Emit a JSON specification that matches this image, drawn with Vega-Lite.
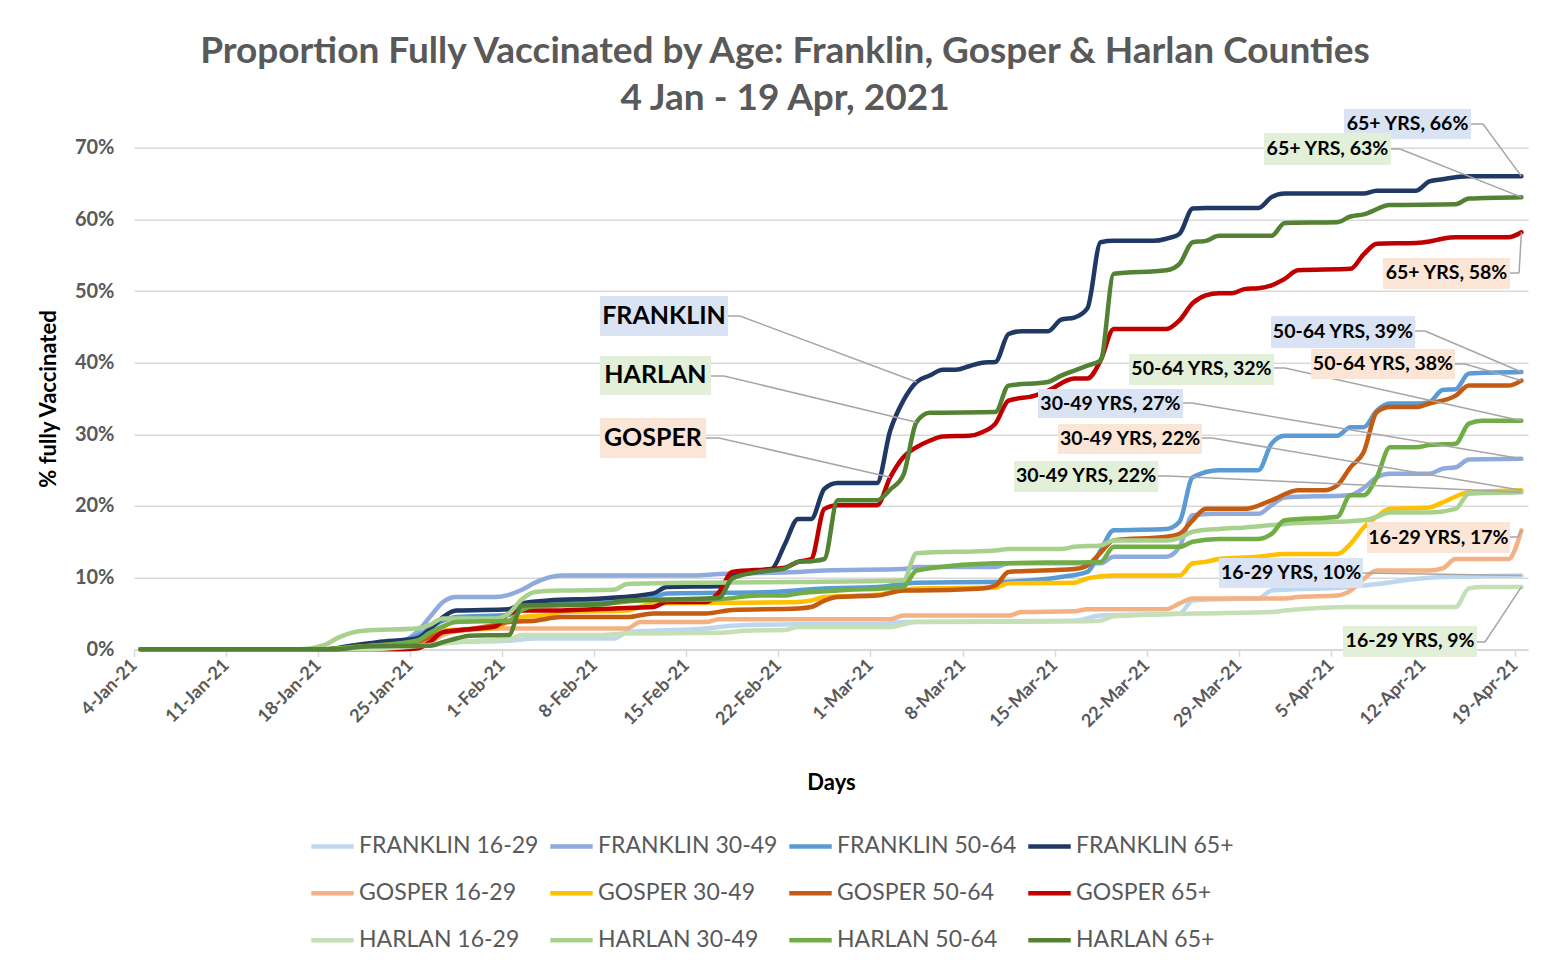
{
  "$schema": "https://vega.github.io/schema/vega-lite/v6.json",
  "width": 1394,
  "height": 501.6,
  "autosize": {"type": "none"},
  "padding": {"left": 134, "top": 147.7, "right": 32, "bottom": 314.7},
  "background": "white",
  "title": {
    "text": ["Proportion Fully Vaccinated by Age: Franklin, Gosper & Harlan Counties", "4 Jan - 19 Apr, 2021"],
    "font": "Lato", "fontSize": 37, "fontWeight": "bold", "color": "#595959",
    "lineHeight": 47, "offset": -9, "dx": -46, "anchor": "middle"
  },
  "config": {"view": {"stroke": null}, "font": "Lato"},
  "datasets": {
    "series": [
      {"series":"FRANKLIN 16-29","day":0,"pct":0},{"series":"FRANKLIN 16-29","day":14,"pct":0},{"series":"FRANKLIN 16-29","day":18,"pct":0.002},{"series":"FRANKLIN 16-29","day":21,"pct":0.004},{"series":"FRANKLIN 16-29","day":22,"pct":0.006},{"series":"FRANKLIN 16-29","day":24,"pct":0.010},{"series":"FRANKLIN 16-29","day":28,"pct":0.012},{"series":"FRANKLIN 16-29","day":30,"pct":0.015},{"series":"FRANKLIN 16-29","day":36,"pct":0.015},{"series":"FRANKLIN 16-29","day":37,"pct":0.024},{"series":"FRANKLIN 16-29","day":39,"pct":0.026},{"series":"FRANKLIN 16-29","day":43,"pct":0.029},{"series":"FRANKLIN 16-29","day":45,"pct":0.033},{"series":"FRANKLIN 16-29","day":50,"pct":0.035},{"series":"FRANKLIN 16-29","day":56,"pct":0.035},{"series":"FRANKLIN 16-29","day":58,"pct":0.038},{"series":"FRANKLIN 16-29","day":71,"pct":0.040},{"series":"FRANKLIN 16-29","day":73,"pct":0.047},{"series":"FRANKLIN 16-29","day":79,"pct":0.050},{"series":"FRANKLIN 16-29","day":80,"pct":0.068},{"series":"FRANKLIN 16-29","day":82,"pct":0.070},{"series":"FRANKLIN 16-29","day":85,"pct":0.071},{"series":"FRANKLIN 16-29","day":86,"pct":0.082},{"series":"FRANKLIN 16-29","day":92,"pct":0.087},{"series":"FRANKLIN 16-29","day":94,"pct":0.091},{"series":"FRANKLIN 16-29","day":98,"pct":0.100},{"series":"FRANKLIN 16-29","day":105,"pct":0.103},

      {"series":"FRANKLIN 30-49","day":0,"pct":0},{"series":"FRANKLIN 30-49","day":14,"pct":0},{"series":"FRANKLIN 30-49","day":17,"pct":0.005},{"series":"FRANKLIN 30-49","day":20,"pct":0.012},{"series":"FRANKLIN 30-49","day":21,"pct":0.024},{"series":"FRANKLIN 30-49","day":22,"pct":0.045},{"series":"FRANKLIN 30-49","day":23,"pct":0.066},{"series":"FRANKLIN 30-49","day":24,"pct":0.073},{"series":"FRANKLIN 30-49","day":27,"pct":0.073},{"series":"FRANKLIN 30-49","day":28,"pct":0.076},{"series":"FRANKLIN 30-49","day":29,"pct":0.083},{"series":"FRANKLIN 30-49","day":30,"pct":0.093},{"series":"FRANKLIN 30-49","day":31,"pct":0.100},{"series":"FRANKLIN 30-49","day":32,"pct":0.103},{"series":"FRANKLIN 30-49","day":42,"pct":0.103},{"series":"FRANKLIN 30-49","day":44,"pct":0.105},{"series":"FRANKLIN 30-49","day":50,"pct":0.108},{"series":"FRANKLIN 30-49","day":52,"pct":0.110},{"series":"FRANKLIN 30-49","day":58,"pct":0.112},{"series":"FRANKLIN 30-49","day":59,"pct":0.115},{"series":"FRANKLIN 30-49","day":65,"pct":0.115},{"series":"FRANKLIN 30-49","day":66,"pct":0.120},{"series":"FRANKLIN 30-49","day":73,"pct":0.120},{"series":"FRANKLIN 30-49","day":74,"pct":0.129},{"series":"FRANKLIN 30-49","day":78,"pct":0.129},{"series":"FRANKLIN 30-49","day":79,"pct":0.143},{"series":"FRANKLIN 30-49","day":80,"pct":0.187},{"series":"FRANKLIN 30-49","day":82,"pct":0.189},{"series":"FRANKLIN 30-49","day":85,"pct":0.189},{"series":"FRANKLIN 30-49","day":86,"pct":0.201},{"series":"FRANKLIN 30-49","day":87,"pct":0.212},{"series":"FRANKLIN 30-49","day":92,"pct":0.215},{"series":"FRANKLIN 30-49","day":93,"pct":0.225},{"series":"FRANKLIN 30-49","day":94,"pct":0.240},{"series":"FRANKLIN 30-49","day":95,"pct":0.245},{"series":"FRANKLIN 30-49","day":98,"pct":0.245},{"series":"FRANKLIN 30-49","day":99,"pct":0.252},{"series":"FRANKLIN 30-49","day":100,"pct":0.254},{"series":"FRANKLIN 30-49","day":101,"pct":0.265},{"series":"FRANKLIN 30-49","day":105,"pct":0.266},

      {"series":"FRANKLIN 50-64","day":0,"pct":0},{"series":"FRANKLIN 50-64","day":14,"pct":0},{"series":"FRANKLIN 50-64","day":17,"pct":0.005},{"series":"FRANKLIN 50-64","day":21,"pct":0.018},{"series":"FRANKLIN 50-64","day":22,"pct":0.030},{"series":"FRANKLIN 50-64","day":23,"pct":0.040},{"series":"FRANKLIN 50-64","day":24,"pct":0.045},{"series":"FRANKLIN 50-64","day":28,"pct":0.048},{"series":"FRANKLIN 50-64","day":29,"pct":0.058},{"series":"FRANKLIN 50-64","day":31,"pct":0.063},{"series":"FRANKLIN 50-64","day":35,"pct":0.068},{"series":"FRANKLIN 50-64","day":39,"pct":0.073},{"series":"FRANKLIN 50-64","day":40,"pct":0.078},{"series":"FRANKLIN 50-64","day":48,"pct":0.080},{"series":"FRANKLIN 50-64","day":52,"pct":0.085},{"series":"FRANKLIN 50-64","day":56,"pct":0.087},{"series":"FRANKLIN 50-64","day":59,"pct":0.093},{"series":"FRANKLIN 50-64","day":65,"pct":0.094},{"series":"FRANKLIN 50-64","day":70,"pct":0.101},{"series":"FRANKLIN 50-64","day":72,"pct":0.108},{"series":"FRANKLIN 50-64","day":73,"pct":0.138},{"series":"FRANKLIN 50-64","day":74,"pct":0.166},{"series":"FRANKLIN 50-64","day":78,"pct":0.168},{"series":"FRANKLIN 50-64","day":79,"pct":0.178},{"series":"FRANKLIN 50-64","day":80,"pct":0.240},{"series":"FRANKLIN 50-64","day":82,"pct":0.250},{"series":"FRANKLIN 50-64","day":85,"pct":0.250},{"series":"FRANKLIN 50-64","day":86,"pct":0.287},{"series":"FRANKLIN 50-64","day":87,"pct":0.298},{"series":"FRANKLIN 50-64","day":91,"pct":0.298},{"series":"FRANKLIN 50-64","day":92,"pct":0.310},{"series":"FRANKLIN 50-64","day":93,"pct":0.310},{"series":"FRANKLIN 50-64","day":94,"pct":0.333},{"series":"FRANKLIN 50-64","day":95,"pct":0.343},{"series":"FRANKLIN 50-64","day":97,"pct":0.343},{"series":"FRANKLIN 50-64","day":98,"pct":0.345},{"series":"FRANKLIN 50-64","day":99,"pct":0.362},{"series":"FRANKLIN 50-64","day":100,"pct":0.363},{"series":"FRANKLIN 50-64","day":101,"pct":0.385},{"series":"FRANKLIN 50-64","day":105,"pct":0.387},

      {"series":"FRANKLIN 65+","day":0,"pct":0},{"series":"FRANKLIN 65+","day":14,"pct":0},{"series":"FRANKLIN 65+","day":16,"pct":0.005},{"series":"FRANKLIN 65+","day":18,"pct":0.010},{"series":"FRANKLIN 65+","day":21,"pct":0.015},{"series":"FRANKLIN 65+","day":22,"pct":0.028},{"series":"FRANKLIN 65+","day":23,"pct":0.045},{"series":"FRANKLIN 65+","day":24,"pct":0.054},{"series":"FRANKLIN 65+","day":28,"pct":0.056},{"series":"FRANKLIN 65+","day":29,"pct":0.064},{"series":"FRANKLIN 65+","day":31,"pct":0.068},{"series":"FRANKLIN 65+","day":35,"pct":0.071},{"series":"FRANKLIN 65+","day":39,"pct":0.078},{"series":"FRANKLIN 65+","day":40,"pct":0.087},{"series":"FRANKLIN 65+","day":44,"pct":0.088},{"series":"FRANKLIN 65+","day":45,"pct":0.103},{"series":"FRANKLIN 65+","day":47,"pct":0.108},{"series":"FRANKLIN 65+","day":48,"pct":0.112},{"series":"FRANKLIN 65+","day":49,"pct":0.147},{"series":"FRANKLIN 65+","day":50,"pct":0.182},{"series":"FRANKLIN 65+","day":51,"pct":0.182},{"series":"FRANKLIN 65+","day":52,"pct":0.224},{"series":"FRANKLIN 65+","day":53,"pct":0.232},{"series":"FRANKLIN 65+","day":56,"pct":0.232},{"series":"FRANKLIN 65+","day":57,"pct":0.305},{"series":"FRANKLIN 65+","day":58,"pct":0.347},{"series":"FRANKLIN 65+","day":59,"pct":0.373},{"series":"FRANKLIN 65+","day":60,"pct":0.382},{"series":"FRANKLIN 65+","day":61,"pct":0.390},{"series":"FRANKLIN 65+","day":62,"pct":0.390},{"series":"FRANKLIN 65+","day":63,"pct":0.395},{"series":"FRANKLIN 65+","day":64,"pct":0.400},{"series":"FRANKLIN 65+","day":65,"pct":0.401},{"series":"FRANKLIN 65+","day":66,"pct":0.440},{"series":"FRANKLIN 65+","day":67,"pct":0.444},{"series":"FRANKLIN 65+","day":69,"pct":0.444},{"series":"FRANKLIN 65+","day":70,"pct":0.460},{"series":"FRANKLIN 65+","day":71,"pct":0.463},{"series":"FRANKLIN 65+","day":72,"pct":0.476},{"series":"FRANKLIN 65+","day":73,"pct":0.568},{"series":"FRANKLIN 65+","day":74,"pct":0.570},{"series":"FRANKLIN 65+","day":77,"pct":0.570},{"series":"FRANKLIN 65+","day":78,"pct":0.573},{"series":"FRANKLIN 65+","day":79,"pct":0.580},{"series":"FRANKLIN 65+","day":80,"pct":0.615},{"series":"FRANKLIN 65+","day":81,"pct":0.616},{"series":"FRANKLIN 65+","day":85,"pct":0.616},{"series":"FRANKLIN 65+","day":86,"pct":0.631},{"series":"FRANKLIN 65+","day":87,"pct":0.636},{"series":"FRANKLIN 65+","day":93,"pct":0.636},{"series":"FRANKLIN 65+","day":94,"pct":0.640},{"series":"FRANKLIN 65+","day":97,"pct":0.640},{"series":"FRANKLIN 65+","day":98,"pct":0.653},{"series":"FRANKLIN 65+","day":99,"pct":0.656},{"series":"FRANKLIN 65+","day":101,"pct":0.660},{"series":"FRANKLIN 65+","day":105,"pct":0.660},

      {"series":"GOSPER 16-29","day":0,"pct":0},{"series":"GOSPER 16-29","day":17,"pct":0},{"series":"GOSPER 16-29","day":20,"pct":0.003},{"series":"GOSPER 16-29","day":22,"pct":0.010},{"series":"GOSPER 16-29","day":23,"pct":0.020},{"series":"GOSPER 16-29","day":24,"pct":0.025},{"series":"GOSPER 16-29","day":27,"pct":0.029},{"series":"GOSPER 16-29","day":37,"pct":0.029},{"series":"GOSPER 16-29","day":38,"pct":0.038},{"series":"GOSPER 16-29","day":43,"pct":0.038},{"series":"GOSPER 16-29","day":44,"pct":0.042},{"series":"GOSPER 16-29","day":57,"pct":0.042},{"series":"GOSPER 16-29","day":58,"pct":0.047},{"series":"GOSPER 16-29","day":66,"pct":0.047},{"series":"GOSPER 16-29","day":67,"pct":0.052},{"series":"GOSPER 16-29","day":71,"pct":0.053},{"series":"GOSPER 16-29","day":72,"pct":0.056},{"series":"GOSPER 16-29","day":78,"pct":0.056},{"series":"GOSPER 16-29","day":79,"pct":0.064},{"series":"GOSPER 16-29","day":80,"pct":0.071},{"series":"GOSPER 16-29","day":87,"pct":0.071},{"series":"GOSPER 16-29","day":88,"pct":0.073},{"series":"GOSPER 16-29","day":91,"pct":0.075},{"series":"GOSPER 16-29","day":92,"pct":0.082},{"series":"GOSPER 16-29","day":93,"pct":0.098},{"series":"GOSPER 16-29","day":94,"pct":0.110},{"series":"GOSPER 16-29","day":98,"pct":0.110},{"series":"GOSPER 16-29","day":99,"pct":0.113},{"series":"GOSPER 16-29","day":100,"pct":0.126},{"series":"GOSPER 16-29","day":104,"pct":0.126},{"series":"GOSPER 16-29","day":105,"pct":0.166},

      {"series":"GOSPER 30-49","day":0,"pct":0},{"series":"GOSPER 30-49","day":14,"pct":0},{"series":"GOSPER 30-49","day":17,"pct":0.004},{"series":"GOSPER 30-49","day":21,"pct":0.010},{"series":"GOSPER 30-49","day":22,"pct":0.018},{"series":"GOSPER 30-49","day":23,"pct":0.026},{"series":"GOSPER 30-49","day":27,"pct":0.030},{"series":"GOSPER 30-49","day":28,"pct":0.040},{"series":"GOSPER 30-49","day":29,"pct":0.045},{"series":"GOSPER 30-49","day":31,"pct":0.048},{"series":"GOSPER 30-49","day":32,"pct":0.052},{"series":"GOSPER 30-49","day":37,"pct":0.054},{"series":"GOSPER 30-49","day":39,"pct":0.064},{"series":"GOSPER 30-49","day":50,"pct":0.066},{"series":"GOSPER 30-49","day":51,"pct":0.068},{"series":"GOSPER 30-49","day":52,"pct":0.073},{"series":"GOSPER 30-49","day":56,"pct":0.076},{"series":"GOSPER 30-49","day":59,"pct":0.085},{"series":"GOSPER 30-49","day":65,"pct":0.086},{"series":"GOSPER 30-49","day":66,"pct":0.092},{"series":"GOSPER 30-49","day":71,"pct":0.093},{"series":"GOSPER 30-49","day":72,"pct":0.099},{"series":"GOSPER 30-49","day":74,"pct":0.103},{"series":"GOSPER 30-49","day":79,"pct":0.103},{"series":"GOSPER 30-49","day":80,"pct":0.120},{"series":"GOSPER 30-49","day":81,"pct":0.122},{"series":"GOSPER 30-49","day":82,"pct":0.126},{"series":"GOSPER 30-49","day":85,"pct":0.129},{"series":"GOSPER 30-49","day":87,"pct":0.133},{"series":"GOSPER 30-49","day":91,"pct":0.133},{"series":"GOSPER 30-49","day":92,"pct":0.147},{"series":"GOSPER 30-49","day":93,"pct":0.170},{"series":"GOSPER 30-49","day":94,"pct":0.185},{"series":"GOSPER 30-49","day":95,"pct":0.196},{"series":"GOSPER 30-49","day":98,"pct":0.198},{"series":"GOSPER 30-49","day":99,"pct":0.205},{"series":"GOSPER 30-49","day":101,"pct":0.219},{"series":"GOSPER 30-49","day":105,"pct":0.222},

      {"series":"GOSPER 50-64","day":0,"pct":0},{"series":"GOSPER 50-64","day":14,"pct":0},{"series":"GOSPER 50-64","day":17,"pct":0.004},{"series":"GOSPER 50-64","day":21,"pct":0.010},{"series":"GOSPER 50-64","day":22,"pct":0.017},{"series":"GOSPER 50-64","day":23,"pct":0.024},{"series":"GOSPER 50-64","day":24,"pct":0.026},{"series":"GOSPER 50-64","day":27,"pct":0.034},{"series":"GOSPER 50-64","day":28,"pct":0.038},{"series":"GOSPER 50-64","day":30,"pct":0.040},{"series":"GOSPER 50-64","day":32,"pct":0.045},{"series":"GOSPER 50-64","day":37,"pct":0.045},{"series":"GOSPER 50-64","day":39,"pct":0.050},{"series":"GOSPER 50-64","day":43,"pct":0.050},{"series":"GOSPER 50-64","day":45,"pct":0.055},{"series":"GOSPER 50-64","day":50,"pct":0.057},{"series":"GOSPER 50-64","day":51,"pct":0.059},{"series":"GOSPER 50-64","day":52,"pct":0.068},{"series":"GOSPER 50-64","day":53,"pct":0.073},{"series":"GOSPER 50-64","day":56,"pct":0.075},{"series":"GOSPER 50-64","day":58,"pct":0.082},{"series":"GOSPER 50-64","day":59,"pct":0.082},{"series":"GOSPER 50-64","day":64,"pct":0.085},{"series":"GOSPER 50-64","day":65,"pct":0.089},{"series":"GOSPER 50-64","day":66,"pct":0.108},{"series":"GOSPER 50-64","day":71,"pct":0.112},{"series":"GOSPER 50-64","day":72,"pct":0.117},{"series":"GOSPER 50-64","day":73,"pct":0.135},{"series":"GOSPER 50-64","day":74,"pct":0.152},{"series":"GOSPER 50-64","day":78,"pct":0.157},{"series":"GOSPER 50-64","day":79,"pct":0.161},{"series":"GOSPER 50-64","day":80,"pct":0.180},{"series":"GOSPER 50-64","day":81,"pct":0.196},{"series":"GOSPER 50-64","day":84,"pct":0.196},{"series":"GOSPER 50-64","day":86,"pct":0.208},{"series":"GOSPER 50-64","day":88,"pct":0.222},{"series":"GOSPER 50-64","day":90,"pct":0.222},{"series":"GOSPER 50-64","day":91,"pct":0.229},{"series":"GOSPER 50-64","day":92,"pct":0.254},{"series":"GOSPER 50-64","day":93,"pct":0.275},{"series":"GOSPER 50-64","day":94,"pct":0.331},{"series":"GOSPER 50-64","day":95,"pct":0.338},{"series":"GOSPER 50-64","day":97,"pct":0.338},{"series":"GOSPER 50-64","day":98,"pct":0.343},{"series":"GOSPER 50-64","day":100,"pct":0.354},{"series":"GOSPER 50-64","day":101,"pct":0.368},{"series":"GOSPER 50-64","day":104,"pct":0.368},{"series":"GOSPER 50-64","day":105,"pct":0.375},

      {"series":"GOSPER 65+","day":0,"pct":0},{"series":"GOSPER 65+","day":20,"pct":0},{"series":"GOSPER 65+","day":21,"pct":0.001},{"series":"GOSPER 65+","day":22,"pct":0.010},{"series":"GOSPER 65+","day":23,"pct":0.024},{"series":"GOSPER 65+","day":25,"pct":0.028},{"series":"GOSPER 65+","day":27,"pct":0.032},{"series":"GOSPER 65+","day":28,"pct":0.050},{"series":"GOSPER 65+","day":29,"pct":0.054},{"series":"GOSPER 65+","day":31,"pct":0.054},{"series":"GOSPER 65+","day":36,"pct":0.057},{"series":"GOSPER 65+","day":39,"pct":0.059},{"series":"GOSPER 65+","day":40,"pct":0.066},{"series":"GOSPER 65+","day":43,"pct":0.066},{"series":"GOSPER 65+","day":44,"pct":0.080},{"series":"GOSPER 65+","day":45,"pct":0.108},{"series":"GOSPER 65+","day":48,"pct":0.112},{"series":"GOSPER 65+","day":49,"pct":0.114},{"series":"GOSPER 65+","day":50,"pct":0.122},{"series":"GOSPER 65+","day":51,"pct":0.126},{"series":"GOSPER 65+","day":52,"pct":0.196},{"series":"GOSPER 65+","day":53,"pct":0.201},{"series":"GOSPER 65+","day":56,"pct":0.201},{"series":"GOSPER 65+","day":57,"pct":0.240},{"series":"GOSPER 65+","day":58,"pct":0.268},{"series":"GOSPER 65+","day":59,"pct":0.282},{"series":"GOSPER 65+","day":60,"pct":0.291},{"series":"GOSPER 65+","day":61,"pct":0.297},{"series":"GOSPER 65+","day":63,"pct":0.298},{"series":"GOSPER 65+","day":64,"pct":0.303},{"series":"GOSPER 65+","day":65,"pct":0.315},{"series":"GOSPER 65+","day":66,"pct":0.347},{"series":"GOSPER 65+","day":68,"pct":0.354},{"series":"GOSPER 65+","day":69,"pct":0.361},{"series":"GOSPER 65+","day":71,"pct":0.378},{"series":"GOSPER 65+","day":72,"pct":0.378},{"series":"GOSPER 65+","day":73,"pct":0.403},{"series":"GOSPER 65+","day":74,"pct":0.447},{"series":"GOSPER 65+","day":78,"pct":0.447},{"series":"GOSPER 65+","day":79,"pct":0.459},{"series":"GOSPER 65+","day":80,"pct":0.483},{"series":"GOSPER 65+","day":81,"pct":0.494},{"series":"GOSPER 65+","day":82,"pct":0.497},{"series":"GOSPER 65+","day":83,"pct":0.497},{"series":"GOSPER 65+","day":84,"pct":0.503},{"series":"GOSPER 65+","day":85,"pct":0.504},{"series":"GOSPER 65+","day":86,"pct":0.508},{"series":"GOSPER 65+","day":87,"pct":0.517},{"series":"GOSPER 65+","day":88,"pct":0.529},{"series":"GOSPER 65+","day":92,"pct":0.531},{"series":"GOSPER 65+","day":93,"pct":0.551},{"series":"GOSPER 65+","day":94,"pct":0.566},{"series":"GOSPER 65+","day":97,"pct":0.567},{"series":"GOSPER 65+","day":98,"pct":0.569},{"series":"GOSPER 65+","day":99,"pct":0.573},{"series":"GOSPER 65+","day":100,"pct":0.575},{"series":"GOSPER 65+","day":104,"pct":0.575},{"series":"GOSPER 65+","day":105,"pct":0.582},

      {"series":"HARLAN 16-29","day":0,"pct":0},{"series":"HARLAN 16-29","day":17,"pct":0},{"series":"HARLAN 16-29","day":20,"pct":0.003},{"series":"HARLAN 16-29","day":22,"pct":0.006},{"series":"HARLAN 16-29","day":24,"pct":0.010},{"series":"HARLAN 16-29","day":27,"pct":0.013},{"series":"HARLAN 16-29","day":28,"pct":0.014},{"series":"HARLAN 16-29","day":29,"pct":0.020},{"series":"HARLAN 16-29","day":35,"pct":0.020},{"series":"HARLAN 16-29","day":37,"pct":0.022},{"series":"HARLAN 16-29","day":44,"pct":0.023},{"series":"HARLAN 16-29","day":46,"pct":0.026},{"series":"HARLAN 16-29","day":49,"pct":0.027},{"series":"HARLAN 16-29","day":50,"pct":0.031},{"series":"HARLAN 16-29","day":57,"pct":0.031},{"series":"HARLAN 16-29","day":58,"pct":0.035},{"series":"HARLAN 16-29","day":59,"pct":0.038},{"series":"HARLAN 16-29","day":72,"pct":0.039},{"series":"HARLAN 16-29","day":73,"pct":0.040},{"series":"HARLAN 16-29","day":74,"pct":0.046},{"series":"HARLAN 16-29","day":80,"pct":0.050},{"series":"HARLAN 16-29","day":86,"pct":0.052},{"series":"HARLAN 16-29","day":87,"pct":0.054},{"series":"HARLAN 16-29","day":92,"pct":0.059},{"series":"HARLAN 16-29","day":100,"pct":0.059},{"series":"HARLAN 16-29","day":101,"pct":0.085},{"series":"HARLAN 16-29","day":102,"pct":0.087},{"series":"HARLAN 16-29","day":105,"pct":0.087},

      {"series":"HARLAN 30-49","day":0,"pct":0},{"series":"HARLAN 30-49","day":12,"pct":0},{"series":"HARLAN 30-49","day":14,"pct":0.006},{"series":"HARLAN 30-49","day":15,"pct":0.016},{"series":"HARLAN 30-49","day":16,"pct":0.023},{"series":"HARLAN 30-49","day":17,"pct":0.026},{"series":"HARLAN 30-49","day":21,"pct":0.029},{"series":"HARLAN 30-49","day":22,"pct":0.034},{"series":"HARLAN 30-49","day":23,"pct":0.043},{"series":"HARLAN 30-49","day":27,"pct":0.043},{"series":"HARLAN 30-49","day":28,"pct":0.050},{"series":"HARLAN 30-49","day":29,"pct":0.070},{"series":"HARLAN 30-49","day":30,"pct":0.080},{"series":"HARLAN 30-49","day":32,"pct":0.082},{"series":"HARLAN 30-49","day":36,"pct":0.083},{"series":"HARLAN 30-49","day":37,"pct":0.091},{"series":"HARLAN 30-49","day":43,"pct":0.093},{"series":"HARLAN 30-49","day":50,"pct":0.094},{"series":"HARLAN 30-49","day":58,"pct":0.096},{"series":"HARLAN 30-49","day":59,"pct":0.134},{"series":"HARLAN 30-49","day":65,"pct":0.138},{"series":"HARLAN 30-49","day":66,"pct":0.140},{"series":"HARLAN 30-49","day":70,"pct":0.140},{"series":"HARLAN 30-49","day":71,"pct":0.143},{"series":"HARLAN 30-49","day":73,"pct":0.145},{"series":"HARLAN 30-49","day":74,"pct":0.152},{"series":"HARLAN 30-49","day":78,"pct":0.152},{"series":"HARLAN 30-49","day":79,"pct":0.155},{"series":"HARLAN 30-49","day":80,"pct":0.164},{"series":"HARLAN 30-49","day":82,"pct":0.168},{"series":"HARLAN 30-49","day":84,"pct":0.170},{"series":"HARLAN 30-49","day":87,"pct":0.175},{"series":"HARLAN 30-49","day":93,"pct":0.180},{"series":"HARLAN 30-49","day":94,"pct":0.185},{"series":"HARLAN 30-49","day":95,"pct":0.191},{"series":"HARLAN 30-49","day":98,"pct":0.191},{"series":"HARLAN 30-49","day":100,"pct":0.196},{"series":"HARLAN 30-49","day":101,"pct":0.217},{"series":"HARLAN 30-49","day":105,"pct":0.219},

      {"series":"HARLAN 50-64","day":0,"pct":0},{"series":"HARLAN 50-64","day":14,"pct":0},{"series":"HARLAN 50-64","day":16,"pct":0.003},{"series":"HARLAN 50-64","day":21,"pct":0.012},{"series":"HARLAN 50-64","day":22,"pct":0.023},{"series":"HARLAN 50-64","day":23,"pct":0.032},{"series":"HARLAN 50-64","day":24,"pct":0.038},{"series":"HARLAN 50-64","day":28,"pct":0.040},{"series":"HARLAN 50-64","day":29,"pct":0.055},{"series":"HARLAN 50-64","day":30,"pct":0.060},{"series":"HARLAN 50-64","day":35,"pct":0.063},{"series":"HARLAN 50-64","day":38,"pct":0.068},{"series":"HARLAN 50-64","day":44,"pct":0.070},{"series":"HARLAN 50-64","day":47,"pct":0.075},{"series":"HARLAN 50-64","day":49,"pct":0.075},{"series":"HARLAN 50-64","day":50,"pct":0.078},{"series":"HARLAN 50-64","day":53,"pct":0.082},{"series":"HARLAN 50-64","day":58,"pct":0.087},{"series":"HARLAN 50-64","day":59,"pct":0.110},{"series":"HARLAN 50-64","day":65,"pct":0.120},{"series":"HARLAN 50-64","day":73,"pct":0.122},{"series":"HARLAN 50-64","day":74,"pct":0.143},{"series":"HARLAN 50-64","day":79,"pct":0.143},{"series":"HARLAN 50-64","day":80,"pct":0.150},{"series":"HARLAN 50-64","day":82,"pct":0.154},{"series":"HARLAN 50-64","day":85,"pct":0.154},{"series":"HARLAN 50-64","day":86,"pct":0.161},{"series":"HARLAN 50-64","day":87,"pct":0.180},{"series":"HARLAN 50-64","day":91,"pct":0.185},{"series":"HARLAN 50-64","day":92,"pct":0.215},{"series":"HARLAN 50-64","day":93,"pct":0.215},{"series":"HARLAN 50-64","day":94,"pct":0.240},{"series":"HARLAN 50-64","day":95,"pct":0.282},{"series":"HARLAN 50-64","day":97,"pct":0.282},{"series":"HARLAN 50-64","day":98,"pct":0.285},{"series":"HARLAN 50-64","day":100,"pct":0.287},{"series":"HARLAN 50-64","day":101,"pct":0.315},{"series":"HARLAN 50-64","day":102,"pct":0.319},{"series":"HARLAN 50-64","day":105,"pct":0.319},

      {"series":"HARLAN 65+","day":0,"pct":0},{"series":"HARLAN 65+","day":15,"pct":0},{"series":"HARLAN 65+","day":17,"pct":0.004},{"series":"HARLAN 65+","day":22,"pct":0.005},{"series":"HARLAN 65+","day":23,"pct":0.010},{"series":"HARLAN 65+","day":24,"pct":0.015},{"series":"HARLAN 65+","day":25,"pct":0.019},{"series":"HARLAN 65+","day":28,"pct":0.020},{"series":"HARLAN 65+","day":29,"pct":0.061},{"series":"HARLAN 65+","day":35,"pct":0.063},{"series":"HARLAN 65+","day":37,"pct":0.068},{"series":"HARLAN 65+","day":43,"pct":0.071},{"series":"HARLAN 65+","day":44,"pct":0.072},{"series":"HARLAN 65+","day":45,"pct":0.099},{"series":"HARLAN 65+","day":47,"pct":0.108},{"series":"HARLAN 65+","day":49,"pct":0.113},{"series":"HARLAN 65+","day":50,"pct":0.122},{"series":"HARLAN 65+","day":51,"pct":0.123},{"series":"HARLAN 65+","day":52,"pct":0.126},{"series":"HARLAN 65+","day":53,"pct":0.208},{"series":"HARLAN 65+","day":56,"pct":0.208},{"series":"HARLAN 65+","day":57,"pct":0.223},{"series":"HARLAN 65+","day":58,"pct":0.243},{"series":"HARLAN 65+","day":59,"pct":0.317},{"series":"HARLAN 65+","day":60,"pct":0.330},{"series":"HARLAN 65+","day":65,"pct":0.331},{"series":"HARLAN 65+","day":66,"pct":0.368},{"series":"HARLAN 65+","day":69,"pct":0.373},{"series":"HARLAN 65+","day":70,"pct":0.382},{"series":"HARLAN 65+","day":71,"pct":0.389},{"series":"HARLAN 65+","day":72,"pct":0.396},{"series":"HARLAN 65+","day":73,"pct":0.403},{"series":"HARLAN 65+","day":74,"pct":0.524},{"series":"HARLAN 65+","day":78,"pct":0.529},{"series":"HARLAN 65+","day":79,"pct":0.538},{"series":"HARLAN 65+","day":80,"pct":0.568},{"series":"HARLAN 65+","day":81,"pct":0.570},{"series":"HARLAN 65+","day":82,"pct":0.577},{"series":"HARLAN 65+","day":86,"pct":0.577},{"series":"HARLAN 65+","day":87,"pct":0.595},{"series":"HARLAN 65+","day":91,"pct":0.596},{"series":"HARLAN 65+","day":92,"pct":0.604},{"series":"HARLAN 65+","day":93,"pct":0.607},{"series":"HARLAN 65+","day":95,"pct":0.620},{"series":"HARLAN 65+","day":100,"pct":0.621},{"series":"HARLAN 65+","day":101,"pct":0.629},{"series":"HARLAN 65+","day":105,"pct":0.631}
    ],
    "labels": [
      {"county":"FRANKLIN","kind":"value","label":"65+ YRS, 66%","day1":91.51,"day2":101.17,"pct1":0.754,"pct2":0.712,"dayc":96.34,"pctc":0.733},
      {"county":"HARLAN","kind":"value","label":"65+ YRS, 63%","day1":85.43,"day2":95.08,"pct1":0.7205,"pct2":0.6758,"dayc":90.25,"pctc":0.698},
      {"county":"GOSPER","kind":"value","label":"65+ YRS, 58%","day1":94.47,"day2":104.13,"pct1":0.5461,"pct2":0.5028,"dayc":99.3,"pctc":0.5245},
      {"county":"FRANKLIN","kind":"value","label":"50-64 YRS, 39%","day1":85.96,"day2":96.91,"pct1":0.4651,"pct2":0.4205,"dayc":91.43,"pctc":0.4428},
      {"county":"GOSPER","kind":"value","label":"50-64 YRS, 38%","day1":89.0,"day2":99.95,"pct1":0.4191,"pct2":0.3772,"dayc":94.47,"pctc":0.3982},
      {"county":"HARLAN","kind":"value","label":"50-64 YRS, 32%","day1":75.16,"day2":86.19,"pct1":0.4121,"pct2":0.3688,"dayc":80.67,"pctc":0.3905},
      {"county":"FRANKLIN","kind":"value","label":"30-49 YRS, 27%","day1":68.24,"day2":79.27,"pct1":0.3632,"pct2":0.3228,"dayc":73.75,"pctc":0.343},
      {"county":"GOSPER","kind":"value","label":"30-49 YRS, 22%","day1":69.76,"day2":80.71,"pct1":0.3144,"pct2":0.2725,"dayc":75.24,"pctc":0.2935},
      {"county":"HARLAN","kind":"value","label":"30-49 YRS, 22%","day1":66.42,"day2":77.37,"pct1":0.2628,"pct2":0.2195,"dayc":71.89,"pctc":0.2412},
      {"county":"GOSPER","kind":"value","label":"16-29 YRS, 17%","day1":93.26,"day2":104.13,"pct1":0.1776,"pct2":0.1344,"dayc":98.69,"pctc":0.156},
      {"county":"FRANKLIN","kind":"value","label":"16-29 YRS, 10%","day1":82.0,"day2":92.95,"pct1":0.1274,"pct2":0.0855,"dayc":87.48,"pctc":0.1065},
      {"county":"HARLAN","kind":"value","label":"16-29 YRS, 9%","day1":91.43,"day2":101.62,"pct1":0.0325,"pct2":-0.0107,"dayc":96.53,"pctc":0.0109},
      {"county":"FRANKLIN","kind":"county","label":"FRANKLIN","day1":34.93,"day2":44.67,"pct1":0.493,"pct2":0.4372,"dayc":39.8,"pctc":0.4651},
      {"county":"HARLAN","kind":"county","label":"HARLAN","day1":34.93,"day2":43.38,"pct1":0.4093,"pct2":0.3549,"dayc":39.15,"pctc":0.3821},
      {"county":"GOSPER","kind":"county","label":"GOSPER","day1":34.93,"day2":43.0,"pct1":0.3228,"pct2":0.267,"dayc":38.96,"pctc":0.2949}
    ],
    "leaders": [
      {"day":101.17,"pct":0.7331,"day2":102.08,"pct2":0.7331},{"day":102.08,"pct":0.7331,"day2":105,"pct2":0.66},
      {"day":95.08,"pct":0.6982,"day2":95.77,"pct2":0.6982},{"day":95.77,"pct":0.6982,"day2":105,"pct2":0.631},
      {"day":104.13,"pct":0.5251,"day2":104.82,"pct2":0.5251},{"day":104.82,"pct":0.5251,"day2":105,"pct2":0.582},
      {"day":96.91,"pct":0.4442,"day2":97.67,"pct2":0.4442},{"day":97.67,"pct":0.4442,"day2":105,"pct2":0.387},
      {"day":99.95,"pct":0.3981,"day2":100.71,"pct2":0.3981},{"day":100.71,"pct":0.3981,"day2":105,"pct2":0.375},
      {"day":86.19,"pct":0.3926,"day2":87.02,"pct2":0.3926},{"day":87.02,"pct":0.3926,"day2":105,"pct2":0.319},
      {"day":79.27,"pct":0.3437,"day2":79.95,"pct2":0.3437},{"day":79.95,"pct":0.3437,"day2":105,"pct2":0.266},
      {"day":80.71,"pct":0.2949,"day2":81.47,"pct2":0.2949},{"day":81.47,"pct":0.2949,"day2":105,"pct2":0.222},
      {"day":77.37,"pct":0.2418,"day2":78.13,"pct2":0.2418},{"day":78.13,"pct":0.2418,"day2":105,"pct2":0.219},
      {"day":104.13,"pct":0.1567,"day2":104.74,"pct2":0.1567},{"day":104.74,"pct":0.1567,"day2":105,"pct2":0.166},
      {"day":92.95,"pct":0.1065,"day2":105,"pct2":0.103},
      {"day":101.62,"pct":0.0102,"day2":102.23,"pct2":0.0102},{"day":102.23,"pct":0.0102,"day2":105,"pct2":0.087},
      {"day":44.67,"pct":0.4651,"day2":45.58,"pct2":0.4651},{"day":45.58,"pct":0.4651,"day2":59,"pct2":0.373},
      {"day":43.38,"pct":0.3814,"day2":44.36,"pct2":0.3814},{"day":44.36,"pct":0.3814,"day2":59,"pct2":0.317},
      {"day":43.0,"pct":0.2949,"day2":43.98,"pct2":0.2949},{"day":43.98,"pct":0.2949,"day2":57,"pct2":0.24}
    ]
  },
  "layer": [
    {
      "data": {"name": "series"},
      "mark": {"type": "line", "strokeWidth": 4.5, "interpolate": "monotone", "strokeJoin": "round", "strokeCap": "round"},
      "encoding": {
        "x": {
          "field": "day", "type": "quantitative",
          "scale": {"domain": [-0.5, 105.5], "nice": false, "zero": false},
          "axis": {
            "title": "Days", "titleFont": "Lato", "titleFontSize": 22, "titleFontWeight": "bold", "titleColor": "#000000", "titlePadding": 42,
            "values": [-0.5, 6.5, 13.5, 20.5, 27.5, 34.5, 41.5, 48.5, 55.5, 62.5, 69.5, 76.5, 83.5, 90.5, 97.5, 104.5],
            "labelExpr": "timeFormat(datetime(2021, 0, 4 + round(datum.value + 0.5)), '%-d-%b-%y')",
            "labelAngle": -45, "labelAlign": "right", "labelBaseline": "middle",
            "labelFont": "Lato", "labelFontSize": 18, "labelFontWeight": "bold", "labelColor": "#595959", "labelPadding": 6,
            "grid": false, "domainColor": "#D9D9D9", "domainWidth": 1.5,
            "ticks": true, "tickColor": "#D9D9D9", "tickWidth": 1.5, "tickSize": 7
          }
        },
        "y": {
          "field": "pct", "type": "quantitative",
          "scale": {"domain": [0, 0.7], "nice": false},
          "axis": {
            "title": "% fully Vaccinated", "titleFont": "Lato", "titleFontSize": 22, "titleFontWeight": "bold", "titleColor": "#000000", "titlePadding": 14,
            "values": [0, 0.1, 0.2, 0.3, 0.4, 0.5, 0.6, 0.7], "format": ".0%",
            "labelFont": "Lato", "labelFontSize": 20, "labelFontWeight": "bold", "labelColor": "#595959", "labelPadding": 20,
            "domain": false, "ticks": false, "grid": true, "gridColor": "#D9D9D9", "gridWidth": 1.5
          }
        },
        "color": {
          "field": "series", "type": "nominal",
          "scale": {
            "domain": ["FRANKLIN 16-29", "FRANKLIN 30-49", "FRANKLIN 50-64", "FRANKLIN 65+", "GOSPER 16-29", "GOSPER 30-49", "GOSPER 50-64", "GOSPER 65+", "HARLAN 16-29", "HARLAN 30-49", "HARLAN 50-64", "HARLAN 65+"],
            "range": ["#BDD7EE", "#8FAADC", "#5B9BD5", "#203864", "#F4B183", "#FFC000", "#C55A11", "#C00000", "#C5E0B4", "#A9D18E", "#70AD47", "#548235"]
          },
          "legend": {
            "orient": "none", "legendX": 175, "legendY": 675, "direction": "horizontal", "columns": 4, "title": null,
            "symbolType": "stroke", "symbolStrokeWidth": 4.5, "symbolSize": 1800,
            "labelFont": "Lato", "labelFontSize": 23, "labelColor": "#595959", "labelOffset": 3,
            "columnPadding": 2, "rowPadding": 11, "gridAlign": "all", "labelLimit": 300
          }
        }
      }
    },
    {
      "data": {"name": "leaders"},
      "mark": {"type": "rule", "color": "#A6A6A6", "strokeWidth": 1.5},
      "encoding": {
        "x": {"field": "day", "type": "quantitative"},
        "x2": {"field": "day2"},
        "y": {"field": "pct", "type": "quantitative"},
        "y2": {"field": "pct2"}
      }
    },
    {
      "data": {"name": "labels"},
      "mark": {"type": "rect"},
      "encoding": {
        "x": {"field": "day1", "type": "quantitative"},
        "x2": {"field": "day2"},
        "y": {"field": "pct1", "type": "quantitative"},
        "y2": {"field": "pct2"},
        "fill": {
          "field": "county", "type": "nominal",
          "scale": {"domain": ["FRANKLIN", "GOSPER", "HARLAN"], "range": ["#DAE3F3", "#FBE5D6", "#E2F0D9"]},
          "legend": null
        }
      }
    },
    {
      "data": {"name": "labels"},
      "transform": [{"filter": "datum.kind == 'value'"}],
      "mark": {"type": "text", "font": "Lato", "fontSize": 19.5, "fontWeight": "bold", "color": "#000000", "align": "center", "baseline": "middle"},
      "encoding": {
        "x": {"field": "dayc", "type": "quantitative"},
        "y": {"field": "pctc", "type": "quantitative"},
        "text": {"field": "label"}
      }
    },
    {
      "data": {"name": "labels"},
      "transform": [{"filter": "datum.kind == 'county'"}],
      "mark": {"type": "text", "font": "Lato", "fontSize": 25, "fontWeight": "bold", "color": "#000000", "align": "center", "baseline": "middle"},
      "encoding": {
        "x": {"field": "dayc", "type": "quantitative"},
        "y": {"field": "pctc", "type": "quantitative"},
        "text": {"field": "label"}
      }
    }
  ]
}
